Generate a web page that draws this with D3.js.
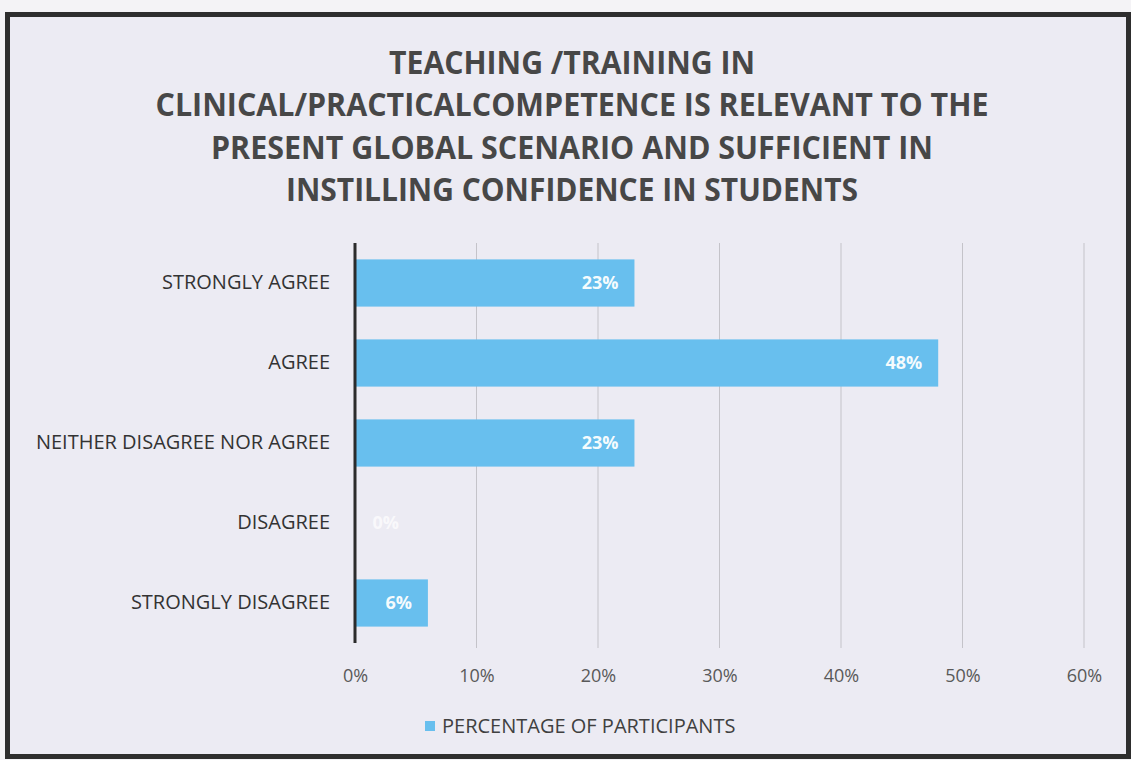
<!DOCTYPE html>
<html>
<head>
<meta charset="utf-8">
<script src="https://cdn.jsdelivr.net/npm/d3@7"></script>
<style>
  html, body { margin: 0; padding: 0; background: #f4f3f6; }
  svg { display: block; }
</style>
</head>
<body>
<svg id="chart" width="1131" height="760"></svg>
<script>
// Survey responses: share of participants per answer
const categories = [
  "STRONGLY AGREE",
  "AGREE",
  "NEITHER DISAGREE NOR AGREE",
  "DISAGREE",
  "STRONGLY DISAGREE"
];
const percentages = [23, 48, 23, 0, 6];
const tickValues = [0, 10, 20, 30, 40, 50, 60];
const titleLines = [
  "TEACHING /TRAINING IN",
  "CLINICAL/PRACTICALCOMPETENCE IS RELEVANT TO THE",
  "PRESENT GLOBAL SCENARIO AND SUFFICIENT IN",
  "INSTILLING CONFIDENCE IN STUDENTS"
];
const seriesName = "PERCENTAGE OF PARTICIPANTS";

const data = categories.map((c, i) => ({ category: c, value: percentages[i] }));

const svg = d3.select("#chart");
const font = "'Open Sans', 'DejaVu Sans', sans-serif";
const barColor = "#68bfee";

// Chart area with dark frame
svg.append("rect")
  .attr("x", 7.5).attr("y", 14.5)
  .attr("width", 1121).attr("height", 742)
  .attr("fill", "#ecebf3")
  .attr("stroke", "#2e2e2e")
  .attr("stroke-width", 5);

// Title, condensed to the width of each line
const titleWidths = [366, 833, 722, 572];
svg.append("g")
  .selectAll("text")
  .data(titleLines)
  .join("text")
  .attr("x", 572)
  .attr("y", (d, i) => 74 + i * 42.4)
  .attr("text-anchor", "middle")
  .attr("font-family", font)
  .attr("font-weight", 700)
  .attr("font-size", 32)
  .attr("fill", "#474747")
  .attr("textLength", (d, i) => titleWidths[i])
  .attr("lengthAdjust", "spacingAndGlyphs")
  .text(d => d);

// Scales
const x = d3.scaleLinear().domain([0, 60]).range([355, 1084]);
const y = d3.scaleBand()
  .domain(categories)
  .range([243, 643])
  .paddingInner(0.41)
  .paddingOuter(0.205);

// Vertical gridlines
svg.append("g")
  .selectAll("line")
  .data(tickValues.filter(t => t > 0))
  .join("line")
  .attr("x1", d => x(d)).attr("x2", d => x(d))
  .attr("y1", 243).attr("y2", 648)
  .attr("stroke", "#c4c3c9")
  .attr("stroke-width", 1);

// X axis tick labels
const xAxis = d3.axisBottom(x)
  .tickValues(tickValues)
  .tickFormat(d => d + "%")
  .tickSize(0)
  .tickPadding(0);
const gx = svg.append("g")
  .attr("transform", "translate(0,669)")
  .call(xAxis);
gx.select(".domain").remove();
gx.selectAll("text")
  .attr("font-family", font)
  .attr("font-size", 18)
  .attr("fill", "#595959");

// Bars
svg.append("g")
  .selectAll("rect")
  .data(data)
  .join("rect")
  .attr("x", x(0))
  .attr("y", d => y(d.category))
  .attr("width", d => x(d.value) - x(0))
  .attr("height", y.bandwidth())
  .attr("fill", barColor);

// Category axis
const yAxis = d3.axisLeft(y).tickSize(0).tickPadding(25);
const gy = svg.append("g")
  .attr("transform", `translate(${x(0)},0)`)
  .call(yAxis);
gy.select(".domain").remove();
gy.selectAll("text")
  .attr("font-family", font)
  .attr("font-size", 20)
  .attr("fill", "#333333");

svg.append("line")
  .attr("x1", x(0)).attr("x2", x(0))
  .attr("y1", 243).attr("y2", 643)
  .attr("stroke", "#2b2b2b")
  .attr("stroke-width", 3);

// Value labels at the inner end of each bar
svg.append("g")
  .selectAll("text")
  .data(data)
  .join("text")
  .attr("x", d => Math.max(x(d.value) - 16, x(0) + 44))
  .attr("y", d => y(d.category) + y.bandwidth() / 2)
  .attr("dy", "0.35em")
  .attr("text-anchor", "end")
  .attr("font-family", font)
  .attr("font-weight", 700)
  .attr("font-size", 18)
  .attr("fill", "#ffffff")
  .attr("fill-opacity", d => d.value === 0 ? 0.7 : 0.95)
  .text(d => d.value + "%");

// Legend
const legend = svg.append("g").attr("transform", "translate(425,726)");
legend.append("rect")
  .attr("x", 0).attr("y", -5)
  .attr("width", 10).attr("height", 10)
  .attr("fill", barColor);
legend.append("text")
  .attr("x", 17)
  .attr("y", 0)
  .attr("dy", "0.35em")
  .attr("font-family", font)
  .attr("font-size", 20)
  .attr("fill", "#404040")
  .text(seriesName);
</script>
</body>
</html>
